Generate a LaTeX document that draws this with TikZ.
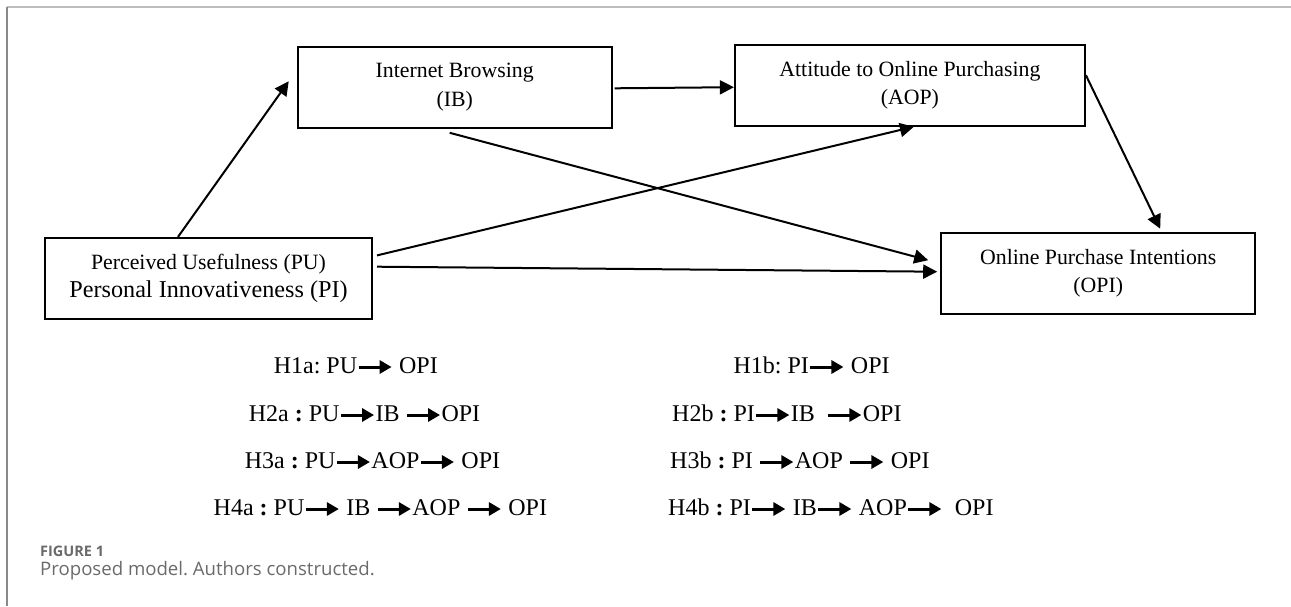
\documentclass[tikz,border=0pt]{standalone}
\usepackage{fontspec}
\setmainfont{Liberation Serif}
\newfontfamily\capfont{Open Sans}
\usetikzlibrary{calc,arrows.meta}
\frenchspacing

\definecolor{framegray}{HTML}{BDBDBD}
\definecolor{edgegray}{HTML}{8A8A8A}
\definecolor{capgray}{HTML}{6A6A6A}

% small arrow used inside the hypothesis lines
\newcommand{\hyp}{\tikz[baseline=-6pt]\draw[line width=3pt,-{Triangle[length=12pt,width=13pt]}] (0pt,0pt) -- (33pt,0pt);}

\begin{document}
\begin{tikzpicture}[x=1pt,y=-1pt,
	box/.style={draw, line width=2pt, align=center, minimum height=81pt, inner sep=0pt, font=\fontsize{21.8}{28.5}\selectfont},
	link/.style={line width=2pt, -{Triangle[length=14pt,width=14pt]}},
	hypline/.style={anchor=base west, inner sep=0pt, font=\fontsize{24}{28}\selectfont}]
			\useasboundingbox (0,0) rectangle (1291,606);
			
			% Frame
			\draw[framegray, line width=2pt] (7,6.5) -- (1291,6.5);
			\draw[edgegray, line width=1.5pt] (7,6.5) -- (7,606);
			
			% Constructs
			\node[box, minimum width=314pt] (IB) at (454.7,87.3) {Internet Browsing\\(IB)};
			\node[box, minimum width=350pt] (AOP) at (909.9,85.2) {Attitude to Online Purchasing\\(AOP)};
			\node[box, minimum width=327pt] (PU) at (208.5,278.4) {Perceived Usefulness (PU)\\{\fontsize{24.2}{28}\selectfont Personal Innovativeness (PI)}};
			\node[box, minimum width=314pt] (OPI) at (1098.2,273.2) {Online Purchase Intentions\\(OPI)};
			
			% Paths of the model
			\draw[link] ($(PU.north)+(-30.5,0)$) -- ($(IB.west)+(-8,-6)$);
			\draw[link] ($(IB.east)+(2,1)$) -- ($(AOP.west)+(0,2)$);
			\draw[link] ($(IB.south)+(-5,4)$) -- ($(OPI.west)+(-12,-13)$);
			\draw[link] ($(PU.east)+(4,-23)$) -- ($(AOP.south)+(4,0)$);
			\draw[link] ($(PU.east)+(4,-11.7)$) -- ($(OPI.west)+(-3,-1.5)$);
			\draw[link] ($(AOP.east)+(0,-10)$) -- ($(OPI.north)+(62,-3)$);
			
			% Hypotheses
			\node[hypline] (h1a) at (273.6,373) {H1a: PU\hyp\ OPI};
			\node[hypline] (h2a) at (248.7,421) {H2a \textbf{:} PU\hyp IB \hyp OPI};
			\node[hypline] (h3a) at (244.6,468) {H3a \textbf{:} PU\hyp AOP\hyp\ OPI};
			\node[hypline] (h4a) at (213.5,515) {H4a \textbf{:} PU\hyp\ IB \hyp AOP \hyp\ OPI};
			\node[hypline] (h1b) at (733.4,373) {H1b: PI\hyp\ OPI};
			\node[hypline] (h2b) at (672,421) {H2b \textbf{:} PI\hyp IB\ \ \hyp OPI};
			\node[hypline] (h3b) at (670,468) {H3b \textbf{:} PI \hyp AOP \hyp\ OPI};
			\node[hypline] (h4b) at (668,515) {H4b \textbf{:} PI\hyp\ IB\hyp\ AOP\hyp\ \ OPI};
			
			% Caption
			\node[anchor=base west, inner sep=0pt, text=capgray, font=\capfont\bfseries\fontsize{14.5}{17}\selectfont] (fig) at (40,556) {FIGURE 1};
			\node[anchor=base west, inner sep=0pt, text=capgray, font=\capfont\fontsize{18.6}{21}\selectfont] (cap) at (40,575) {Proposed model. Authors constructed.};
	\end{tikzpicture}
\end{document}
